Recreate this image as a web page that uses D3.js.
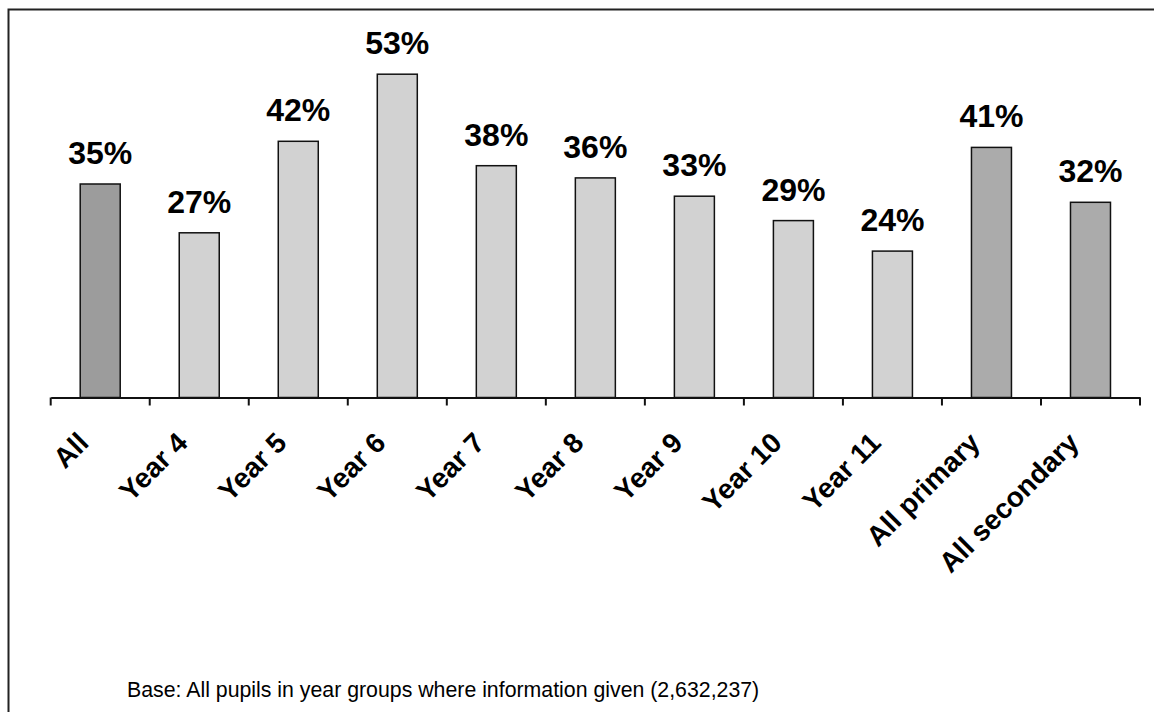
<!DOCTYPE html>
<html>
<head>
<meta charset="utf-8">
<script src="https://cdn.jsdelivr.net/npm/d3@7"></script>
<style>
  body { margin: 0; background: #fff; }
  svg { display: block; font-family: Arial, "Liberation Sans", sans-serif; }
</style>
</head>
<body>
<svg width="1154" height="712"></svg>
<script>
// chart data
const categories = ['All', 'Year 4', 'Year 5', 'Year 6', 'Year 7', 'Year 8', 'Year 9', 'Year 10', 'Year 11', 'All primary', 'All secondary'];
const values = [35, 27, 42, 53, 38, 36, 33, 29, 24, 41, 32];
const groups = ['total', 'year', 'year', 'year', 'year', 'year', 'year', 'year', 'year', 'phase', 'phase'];
const footnote = 'Base: All pupils in year groups where information given (2,632,237)';

const svg = d3.select('svg');
const baseY = 397.5;

const fillFor = {total: '#9c9c9c', year: '#d2d2d2', phase: '#ababab'};

// outer frame, right/bottom edges run off the page
svg.append('rect')
  .attr('x', 8.5).attr('y', 9.5)
  .attr('width', 1170).attr('height', 720)
  .attr('fill', 'none').attr('stroke', '#222').attr('stroke-width', 2);

const x = d3.scaleBand().domain(categories).range([50.7, 1140]).paddingInner(0).paddingOuter(0);
const y = d3.scaleLinear().domain([0, 60]).range([baseY, baseY - 366]);
const barW = 40;

svg.selectAll('.bar')
  .data(categories)
  .enter()
  .append('rect')
  .attr('class', 'bar')
  .attr('x', d => x(d) + x.bandwidth() / 2 - barW / 2)
  .attr('y', (d, i) => y(values[i]))
  .attr('width', barW)
  .attr('height', (d, i) => baseY - y(values[i]))
  .attr('fill', (d, i) => fillFor[groups[i]])
  .attr('stroke', '#111').attr('stroke-width', 1.5);

svg.selectAll('.val')
  .data(categories)
  .enter()
  .append('text')
  .attr('class', 'val')
  .attr('x', d => x(d) + x.bandwidth() / 2)
  .attr('y', (d, i) => y(values[i]) - 20)
  .attr('text-anchor', 'middle')
  .style('font-size', '32px').style('font-weight', 'bold')
  .text((d, i) => values[i] + '%');

// x axis: labels from the axis, ticks on the category boundaries
const xAxis = svg.append('g')
  .attr('transform', `translate(0,${baseY})`)
  .call(d3.axisBottom(x).tickSize(0).tickPadding(0));
xAxis.select('.domain').attr('stroke', '#111').attr('stroke-width', 2);
xAxis.selectAll('text')
  .attr('x', 0).attr('y', 0).attr('dy', 0)
  .attr('transform', 'translate(-10,47) rotate(-45)')
  .attr('text-anchor', 'end')
  .attr('fill', '#000')
  .style('font-size', '28px').style('font-weight', 'bold')
  .style('font-family', 'Arial, "Liberation Sans", sans-serif');

const bounds = categories.map(d => x(d)).concat([x.range()[1]]);
svg.selectAll('.tick-b')
  .data(bounds)
  .enter()
  .append('line')
  .attr('x1', d => d).attr('x2', d => d)
  .attr('y1', baseY).attr('y2', baseY + 8)
  .attr('stroke', '#111').attr('stroke-width', 2);

svg.append('text')
  .attr('x', 127).attr('y', 697)
  .style('font-size', '21.3px')
  .text(footnote);
</script>
</body>
</html>
